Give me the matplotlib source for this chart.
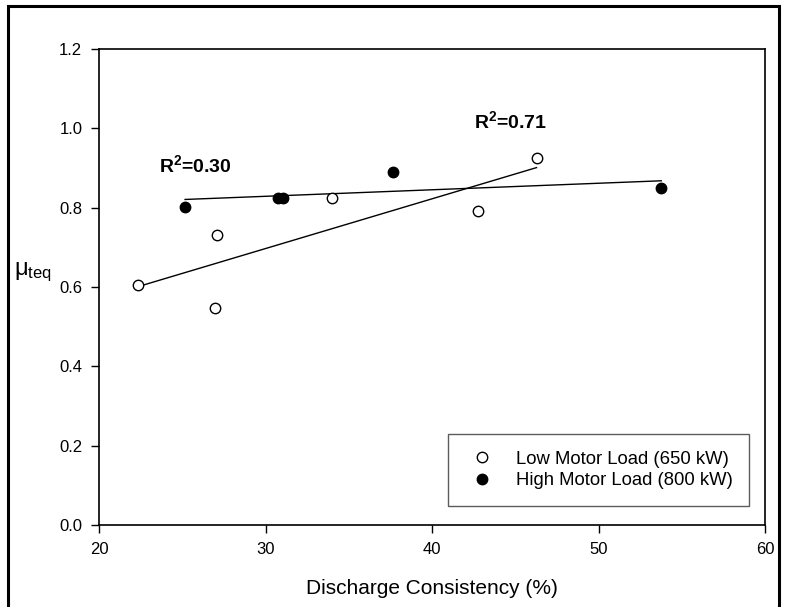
import numpy as np
import matplotlib.pyplot as plt
from matplotlib.patches import Rectangle

plt.rcParams['font.family'] = ['Liberation Sans', 'DejaVu Sans']
plt.rcParams['mathtext.fontset'] = 'custom'
plt.rcParams['mathtext.rm'] = 'Liberation Sans'
plt.rcParams['mathtext.it'] = 'Liberation Sans:italic'
plt.rcParams['mathtext.bf'] = 'Liberation Sans:bold'

# Low motor load (650 kW)
low_x = [22.36, 26.97, 27.07, 34.0, 42.74, 46.28]
low_y = [0.605, 0.546, 0.731, 0.825, 0.792, 0.926]
# High motor load (800 kW)
high_x = [25.17, 30.77, 31.07, 37.64, 53.77]
high_y = [0.802, 0.825, 0.825, 0.889, 0.849]

xticks = [20, 30, 40, 50, 60]
yticks = [0.0, 0.2, 0.4, 0.6, 0.8, 1.0, 1.2]

fig = plt.figure(figsize=(7.87, 6.07), dpi=100)
ax = fig.add_axes([99 / 787, 1 - 525 / 607, 666 / 787, 476 / 607])

# regression lines over the range of each series
for xs, ys in [(low_x, low_y), (high_x, high_y)]:
    p = np.polyfit(xs, ys, 1)
    xr = np.array([min(xs), max(xs)])
    ax.plot(xr, np.polyval(p, xr), '-k', linewidth=1.0)

ax.plot(low_x, low_y, 'o', ms=7.5, mfc='white', mec='black', mew=1.0,
        linestyle='none', label='Low Motor Load (650 kW)')
ax.plot(high_x, high_y, 'o', ms=7.5, mfc='black', mec='black', mew=1.0,
        linestyle='none', label='High Motor Load (800 kW)')

ax.text(23.6, 0.907, r'R$^{\mathbf{2}}$=0.30', fontsize=14, fontweight='bold', va='center')
ax.text(42.5, 1.017, r'R$^{\mathbf{2}}$=0.71', fontsize=14, fontweight='bold', va='center')

ax.set_xlim(20, 60)
ax.set_ylim(0, 1.2)
ax.set_xticks(xticks)
ax.set_yticks(yticks)
ax.set_yticklabels(['%.1f' % v for v in yticks])
ax.tick_params(direction='out', length=6, width=1, pad=6, labelsize=12, top=False, right=False)
for s in ax.spines.values():
    s.set_linewidth(1.2)

ax.set_xlabel('Discharge Consistency (%)', fontsize=15, labelpad=16)
fig.text(0.018, 1 - 272 / 607, r'$\mathregular{\mu_{teq}}$', fontsize=17, va='center', ha='left')

leg = ax.legend(loc='lower right', bbox_to_anchor=(59.05, 0.048), bbox_transform=ax.transData,
                fontsize=13.3, frameon=True, fancybox=False, borderpad=0.9,
                handletextpad=0.95, labelspacing=0.25, handlelength=1.8, borderaxespad=0)
leg.get_frame().set_edgecolor('#333333')
leg.get_frame().set_linewidth(1.0)

# outer frame around the figure
fig.patches.append(Rectangle((8 / 787, -0.05), 771 / 787, 1.05 - 5.5 / 607,
                             transform=fig.transFigure, fill=False,
                             edgecolor='black', linewidth=2.2))

fig.savefig('out.png', dpi=100)
